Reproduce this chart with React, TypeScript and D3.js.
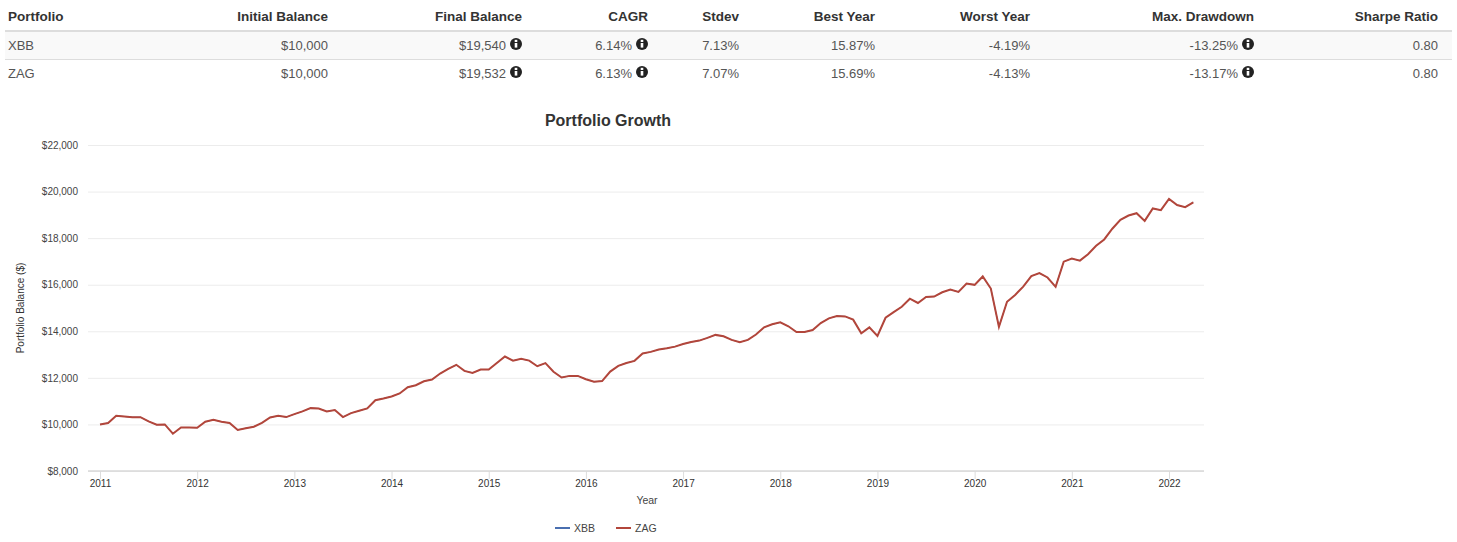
import React from "react";
import { select, scaleLinear, line, axisBottom, axisLeft, format, range } from "d3";

const tableColumns = ["Portfolio", "Initial Balance", "Final Balance", "CAGR", "Stdev", "Best Year", "Worst Year", "Max. Drawdown", "Sharpe Ratio"];
const xbbRow = ["XBB", "$10,000", "$19,540", "6.14%", "7.13%", "15.87%", "-4.19%", "-13.25%", "0.80"];
const zagRow = ["ZAG", "$10,000", "$19,532", "6.13%", "7.07%", "15.69%", "-4.13%", "-13.17%", "0.80"];
const columnsWithInfo = [2, 3, 7];

const yearTicks = [2011, 2012, 2013, 2014, 2015, 2016, 2017, 2018, 2019, 2020, 2021, 2022];
const balanceTicks = [8000, 10000, 12000, 14000, 16000, 18000, 20000, 22000];

// monthly values, Jan 2011 to Apr 2022
const zagValues = [
  10000, 10060, 10370, 10340, 10310, 10310, 10130, 9985, 10000, 9600, 9870, 9870,
  9860, 10115, 10200, 10115, 10060, 9760, 9840, 9900, 10070, 10300, 10370, 10315,
  10440, 10560, 10700, 10685, 10560, 10615, 10315, 10485, 10585, 10685, 11040, 11115,
  11200, 11330, 11600, 11685, 11855, 11930, 12185, 12385, 12560, 12300, 12215, 12357,
  12357, 12640, 12915, 12740, 12815, 12740, 12500, 12630, 12260, 12015, 12085, 12085,
  11940, 11830, 11860, 12270, 12515, 12640, 12730, 13045, 13115, 13215, 13270, 13340,
  13455, 13540, 13600, 13715, 13845, 13785, 13630, 13530, 13630, 13860, 14170, 14300,
  14385, 14215, 13970, 13970, 14055, 14355, 14555, 14655, 14640, 14500, 13915, 14170,
  13800, 14580, 14825, 15055, 15400, 15215, 15475, 15490, 15675, 15790, 15690, 16050,
  15995, 16355, 15835, 14190, 15270, 15560, 15920, 16370, 16500, 16310, 15910, 16990,
  17120, 17035, 17310, 17670, 17945, 18405, 18785, 18970, 19070, 18740, 19275, 19200,
  19680, 19420, 19330, 19540,
];
// XBB runs right under ZAG, the blue line can't be told apart in the picture
const xbbValues = zagValues;

const FONT = '"Liberation Sans", Arial, sans-serif';
const XBB_COLOR = "#4A6FB0";
const ZAG_COLOR = "#B2463B";
const width = 1457;
const height = 542;
const plot = { left: 88, right: 1204, top: 145, bottom: 471 };
const columnRight = [0, 328, 522, 648, 739, 875, 1030, 1254, 1438];
const rowTextY = [50, 78];
const rowIconY = [44, 72];

const InfoIcon = ({ cx, cy }: { cx: number; cy: number }) => (
  <g>
    <circle cx={cx} cy={cy} r={6} fill="#222" />
    <rect x={cx - 1.3} y={cy - 1} width={2.6} height={4.6} fill="#fff" />
    <rect x={cx - 1.3} y={cy - 4.2} width={2.6} height={2.2} fill="#fff" />
  </g>
);

const ResultsTable = () => {
  const rows = [xbbRow, zagRow];
  return (
    <g fontFamily={FONT} fontSize={13}>
      <rect x={5} y={32} width={1447} height={27} fill="#f9f9f9" />
      <line x1={5} x2={1452} y1={31} y2={31} stroke="#ddd" strokeWidth={2} />
      <line x1={5} x2={1452} y1={59.5} y2={59.5} stroke="#ddd" />
      {tableColumns.map((c, i) => (
        <text
          key={c}
          x={i === 0 ? 8 : columnRight[i]}
          y={21}
          textAnchor={i === 0 ? "start" : "end"}
          fontWeight="bold"
          fontSize={13.5}
          fill="#333"
        >
          {c}
        </text>
      ))}
      {rows.map((row, r) =>
        row.map((cell, i) => {
          const hasInfo = columnsWithInfo.includes(i);
          const right = i === 0 ? 8 : columnRight[i] - (hasInfo ? 16 : 0);
          return (
            <g key={`${r}-${i}`}>
              <text x={right} y={rowTextY[r]} textAnchor={i === 0 ? "start" : "end"} fill="#555">
                {cell}
              </text>
              {hasInfo && <InfoIcon cx={columnRight[i] - 6} cy={rowIconY[r]} />}
            </g>
          );
        })
      )}
    </g>
  );
};

export default function App() {
  const svgRef = React.useRef<SVGSVGElement>(null);

  React.useLayoutEffect(() => {
    const svg = select(svgRef.current);
    const chart = svg.select<SVGGElement>("g.chart");
    chart.selectAll("*").remove();

    const x = scaleLinear().domain([2011, 2022]).range([100, 1169]);
    const y = scaleLinear().domain([8000, 22000]).range([plot.bottom, plot.top]);

    chart
      .append("g")
      .attr("transform", `translate(${plot.left},0)`)
      .call(
        axisLeft(y)
          .tickValues(balanceTicks)
          .tickSize(0)
          .tickPadding(10)
          .tickFormat((d) => "$" + format(",")(+d))
      )
      .call((g) => g.select(".domain").remove())
      .call((g) =>
        g
          .selectAll(".tick")
          .append("line")
          .attr("x2", plot.right - plot.left)
          .attr("stroke", "#ececec")
      )
      .call((g) =>
        g.selectAll("text").attr("fill", "#444").style("font-family", FONT).style("font-size", "10px")
      );

    const xAxis = chart
      .append("g")
      .attr("transform", `translate(0,${plot.bottom})`)
      .call(axisBottom(x).tickValues(yearTicks).tickSize(8).tickPadding(1).tickFormat(format("d")));
    xAxis.select(".domain").remove();
    xAxis.selectAll("line").attr("stroke", "#ddd");
    xAxis.selectAll("text").attr("fill", "#333").style("font-family", FONT).style("font-size", "10px");
    xAxis
      .append("line")
      .attr("x1", plot.left)
      .attr("x2", plot.right)
      .attr("stroke", "#d8d8d8")
      .attr("stroke-width", 1.5);

    const months = range(zagValues.length).map((i) => 2011 + i / 12);
    const path = line<number>()
      .x((_, i) => x(months[i]))
      .y((d) => y(d));

    chart
      .append("path")
      .attr("d", path(xbbValues))
      .attr("fill", "none")
      .attr("stroke", XBB_COLOR)
      .attr("stroke-width", 1);
    chart
      .append("path")
      .attr("d", path(zagValues))
      .attr("fill", "none")
      .attr("stroke", ZAG_COLOR)
      .attr("stroke-width", 2);

    return () => {
      chart.selectAll("*").remove();
    };
  }, []);

  return (
    <svg
      ref={svgRef}
      width={width}
      height={height}
      style={{ position: "absolute", left: 0, top: 0, background: "#fff" }}
    >
      <ResultsTable />
      <text x={608} y={126} textAnchor="middle" fontFamily={FONT} fontSize={16} fontWeight="bold" fill="#333">
        Portfolio Growth
      </text>
      <g className="chart" />
      <text
        transform="translate(24,308) rotate(-90)"
        textAnchor="middle"
        fontFamily={FONT}
        fontSize={10}
        fill="#333"
      >
        Portfolio Balance ($)
      </text>
      <text x={647} y={504} textAnchor="middle" fontFamily={FONT} fontSize={10.5} fill="#444">
        Year
      </text>
      <g fontFamily={FONT} fontSize={10.5} fill="#444">
        <line x1={555} x2={570} y1={528} y2={528} stroke={XBB_COLOR} strokeWidth={2} />
        <text x={574} y={532}>XBB</text>
        <line x1={616} x2={631} y1={528} y2={528} stroke={ZAG_COLOR} strokeWidth={2} />
        <text x={635} y={532}>ZAG</text>
      </g>
    </svg>
  );
}
